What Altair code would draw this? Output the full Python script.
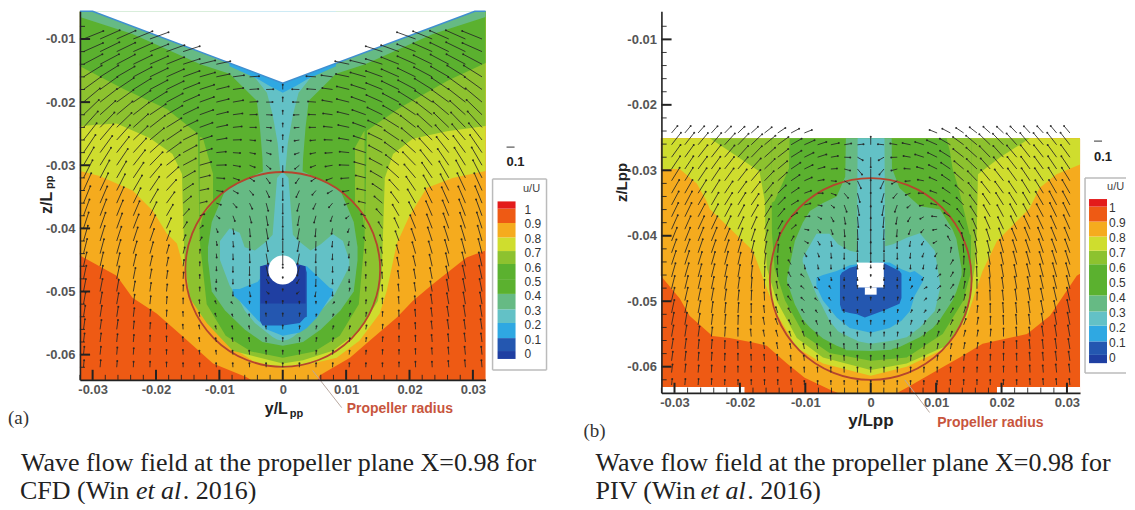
import math
import altair as alt
import pandas as pd

# ---- colours of the u/U levels
RED, REDOR, ORANGE, YELLOW, LGREEN, GREEN, TGREEN, TEAL, LBLUE, BLUE, DARK = (
    "#E31B1B", "#EE5A14", "#F5AB1E", "#CFDD2E", "#8DC22F", "#5BB12F",
    "#66BA84", "#63C1C6", "#2FA8E2", "#2457B0", "#1F3FA2")
LEG_LO = [-.035, .02, .11, .215, .31, .417, .52, .625, .715, .81, .91, 1.01]
LEG_HI = [.02, .11, .215, .31, .417, .52, .625, .715, .81, .91, 1.01, 1.06]
LEG_COL = [DARK, BLUE, LBLUE, TEAL, TGREEN, GREEN, GREEN, LGREEN, YELLOW, ORANGE, REDOR, RED]
LEG_VAL = [0, .1, .2, .3, .4, .5, .6, .7, .8, .9, 1]
LEG_TXT = ["0", "0.1", "0.2", "0.3", "0.4", "0.5", "0.6", "0.7", "0.8", "0.9", "1"]

# ---- panel a, contours (all y/L and z/L values x 1000)
A_SURF_X = [-32, -30, 0, 30.3, 32]
A_SURF_Z = [-5.6, -5.6, -17, -5.6, -5.6]
A9_X = [-32, -26.2, -23.7, -19.9, -15.9, -11, -5.7, -5, 5.5, 5.8, 10.6, 13.7, 18, 20.5, 23.7, 29, 32]
A9_Z = [-44.3, -47.5, -51, -53.5, -57, -61.4, -63.6, -64, -64, -63.3, -60.5, -57.8, -54.1, -51.5, -48.8, -44.6, -43.5]
A8_X = [-32, -28.9, -23.7, -20.5, -18.3, -16.7, -15.7, -14.7, -13.1, -8.8, -4.7, 0, 4.7, 8.5, 12.1, 15.3, 16.4, 18, 20, 22.7, 26.8, 32]
A8_Z = [-30.9, -31.7, -34, -37.2, -40.8, -42.4, -46, -50, -53.5, -58.3, -61, -62.2, -61.4, -60.5, -57.8, -53.5, -49.9, -42.4, -38, -33.6, -32, -30.9]
A7_X = [-32, -26.2, -21, -17.4, -15.9, -15.8, -15.5, -14.7, -12, -7.9, 0, 3.2, 7.9, 12.1, 15, 15.6, 16.1, 17.4, 20.5, 25.9, 32]
A7_Z = [-23.8, -23.4, -25.7, -28.2, -31.4, -35.6, -45, -51, -55, -59.4, -61.4, -60.9, -59.4, -56.2, -51.5, -47.8, -32, -28.2, -25.8, -24.6, -23.8]
A6_X = [-32, -25.2, -18.3, -13.4, -13.1, -12, -9, -5, 0, 5, 9, 12, 12.9, 13.3, 18.5, 26, 32]
A6_Z = [-14.3, -17.9, -21.1, -25, -42, -52, -57, -59.5, -60.5, -59.5, -57, -52, -42, -24.5, -20.9, -16.6, -13.8]
A6P_X = [-13.1, -12.6, -11]
A6P_HI = [-25.5, -25.7, -31.4]
A6P_LO = [-40, -38, -36]
A6Q_X = [11.4, 12.6, 12.9]
A6Q_HI = [-27.2, -25, -24.5]
A6Q_LO = [-36, -38, -40]
A4S_X = [-32, -23.7, -13, -8.4, -4.1, -3.6, -3.2, -3.1, 3.1, 3.2, 3.6, 4.1, 8.4, 13, 23.7, 32]
A4S_Z = [-6.5, -9.2, -14, -15.5, -19.8, -24, -29, -32, -32, -29, -24, -19.8, -15.5, -14, -9.2, -6.5]
A4B_X = [-11.8, -11.2, -9.1, -6, -3.2, 0, 3.2, 6, 9.1, 11.2, 11.8]
A4B_HI = [-43, -39, -34, -32.3, -31, -31, -31, -32.3, -34, -39, -43]
A4B_LO = [-45, -50, -53, -56, -58, -58.6, -58, -56, -53, -50, -45]
A3S_X = [-4.5, -2.5, -1.6, -0.8, -0.4, 0.4, 0.8, 1.6, 2.5, 4.5]
A3S_Z = [-16, -18.5, -22, -26.5, -31, -31, -26.5, -22, -18.5, -16]
A3B_X = [-9.9, -8.4, -6.8, -6, -4.4, -2.5, -1.6, -0.9, 0, 0.9, 1.6, 2.5, 4.4, 6, 7.9, 9.5, 10.5]
A3B_HI = [-42, -40, -40.7, -43, -43.5, -42, -41, -32, -31, -32, -41, -42, -43.5, -42.5, -40.9, -42, -45]
A3B_LO = [-45, -49, -51.5, -53, -55, -56.5, -57.2, -57.6, -57.8, -57.6, -57.2, -56.5, -55, -53, -51, -48, -46]
A2_X = [-7.9, -6.8, -4, -3.2, -2.5, 0, 2.7, 3.8, 5.4, 7.4, 7.9]
A2_HI = [-49.6, -49.6, -48.5, -47.5, -46, -45, -46, -46, -47.5, -49.4, -49.6]
A2_LO = [-50.5, -51.5, -54.5, -55.2, -56, -57, -56.5, -55.8, -54.1, -51, -50.5]
A1_X = [-3.6, -3.2, 0, 2.7, 3.5, 3.8]
A1_HI = [-46, -46, -45, -46, -46, -47]
A1_LO = [-54.6, -55.4, -55.4, -55, -54.1, -54]
A0_X = [-3.5, 0, 3.6]
A0_HI = [-46, -45, -46]
A0_LO = [-51.9, -51.9, -51.9]
AT_X = [-8.4, -4, -2, 0, 2, 4, 8.4]
AT_LO = [-14.3, -16.3, -17.5, -18.5, -17.5, -16.3, -14.3]

# ---- panel a, vector rows: z, then angle (deg, towards the centre) and
# length (u/U x 100), each row listed from the outer column inwards
A_ROW_Z = [-10, -12, -14, -16, -18, -20, -22, -24, -26, -28, -30, -32, -34, -36, -38, -40,
           -42, -44, -46, -48, -50, -52, -54, -56, -58, -60, -62]
A_ANG = [
 [22,24,24,22,20],
 [24,26,26,24,22,20,18],
 [28,28,28,26,24,22,18,14,12],
 [32,32,30,28,26,24,20,16,12,8,4],
 [36,36,34,32,28,26,22,18,14,8,4,2,90],
 [40,38,36,34,32,28,24,20,14,10,4,0,90],
 [44,42,40,38,34,30,26,20,14,8,2,-2,90],
 [48,46,44,42,38,32,26,20,12,6,0,-4,90],
 [52,50,48,44,40,34,26,18,10,2,-6,-10,90],
 [56,54,52,48,42,36,28,18,6,-4,-12,-20,90],
 [60,58,56,52,46,38,28,16,2,-10,-22,-40,-90],
 [63,62,60,56,50,42,30,14,-4,-20,-35,-55,-90],
 [66,65,63,60,56,48,34,12,-10,-30,-50,-65,-90],
 [68,67,66,64,60,54,40,14,-20,-50,-65,-75,-90],
 [70,69,68,67,64,60,48,20,-40,-70,-75,-80,-90],
 [72,71,70,69,68,66,58,40,-70,-80,-85,-80,-90],
 [74,73,72,72,71,70,68,60,-80,-85,-88,-80,-90],
 [76,75,74,74,74,74,76,85,-85,-88,-88,-80,-90],
 [77,77,77,77,77,78,82,88,-88,-90,-90,-78,-90],
 [78,78,78,79,80,82,86,90,-90,-90,-88,-60,90],
 [79,79,80,80,82,84,88,90,100,-90,-80,-40,90],
 [80,80,80,82,84,86,90,95,110,130,90,90,90],
 [81,81,81,83,85,88,92,98,110,110,100,95,90],
 [82,82,82,84,86,90,94,100,105,105,100,95,90],
 [83,83,84,85,88,90,94,98,100,100,98,94,90],
 [84,84,85,86,88,90,92,95,96,96,95,92,90],
 [85,85,85,87,88,90,91,92,93,93,92,91,90]]
A_MAG = [
 [27,27,26,26,25],
 [27,27,26,26,25,24,22],
 [27,27,26,26,25,24,22,20,18],
 [27,27,26,26,25,24,22,20,17,14,12],
 [27,27,26,26,25,24,22,19,16,13,11,9,6],
 [27,27,26,26,25,23,22,19,16,13,10,8,6],
 [27,26,26,25,24,23,21,18,15,12,9,7,5],
 [27,26,26,25,24,22,20,17,14,11,8,6,5],
 [27,26,25,25,23,22,19,16,13,10,7,6,6],
 [27,26,25,24,23,22,19,16,12,9,7,6,7],
 [26,26,25,24,23,21,18,15,12,9,7,7,8],
 [25,25,24,23,22,20,17,13,10,8,7,8,10],
 [24,24,23,22,21,18,15,11,8,7,7,9,12],
 [23,23,22,21,20,17,13,9,6,7,8,10,13],
 [22,22,21,20,19,16,11,6,5,7,9,12,14],
 [21,21,20,19,18,14,9,5,5,7,10,13,14],
 [20,20,19,18,16,13,8,5,5,7,11,13,14],
 [19,19,18,16,15,11,8,5,5,7,11,13,14],
 [18,18,17,15,13,11,8,5,5,7,11,12,2],
 [17,17,16,14,12,10,8,5,4,6,9,6,2],
 [16,16,15,13,11,9,8,5,4,5,6,4,3],
 [15,15,14,12,10,9,7,5,4,3,3,3,4],
 [14,14,13,11,9,8,6,5,4,3,3,4,4],
 [13,12,12,10,8,7,6,5,4,4,4,4,5],
 [11,11,10,9,8,7,6,5,5,5,5,5,5],
 [10,10,9,8,7,6,6,5,5,5,5,5,5],
 [9,9,8,7,7,6,5,5,5,5,5,5,5]]

# ---- panel b, contours
B9_X = [-32.1, -29.2, -27.7, -24.2, -21.6, -18, -15.9, -12.8, -10.1, -5.8, -5, 4, 5.5, 10.1, 13.6, 17.1, 23.9, 27.4, 31.5, 32]
B9_Z = [-46.1, -49.6, -52.2, -55.3, -55.6, -56.3, -56.8, -59.5, -61.7, -63.7, -64, -64, -63.2, -60.6, -58.6, -56.5, -55, -52.2, -46.1, -45.8]
B8_X = [-32, -29.2, -26.6, -25.1, -24.6, -21.6, -18, -15.9, -14.4, -11.3, -7.3, 0, 5.5, 11.6, 14.7, 16.2, 17.1, 19.3, 24.3, 25.8, 28.4, 32]
B8_Z = [-29.8, -29.8, -32, -34.7, -35.9, -38.8, -42.3, -48, -51.9, -57.1, -59.5, -61.4, -60, -57.1, -52.5, -48, -45.4, -40.8, -35.8, -32.7, -30.6, -29.1]
B7_X = [-32, -24.6, -21.6, -17, -16.2, -16.1, -15.9, -14.4, -11.3, -7.3, 0, 5.5, 11.6, 14.7, 15.9, 16.2, 16.4, 19.7, 24.3, 32]
B7_Z = [-25.1, -25.1, -27.1, -30.2, -34.7, -39.7, -44.9, -49.9, -55.6, -58.6, -60.5, -59.5, -56.8, -52, -44.9, -39.7, -30.6, -28.1, -25.1, -25.1]
B6_X = [-15.2, -15.1, -14.7, -13.1, -10.1, -6.3, 0, 5.5, 11, 14.1, 15.3, 15.35, 15.4]
B6_Z = [-25.1, -39.7, -45, -49.9, -55.3, -57.9, -59.1, -58.6, -55, -50, -45.6, -39.7, -25.1]
B6P_X = [-15.2, -14.7, -13.5, -12.5, -12.4]
B6P_LO = [-35, -34.7, -32, -29.7, -25.1]
B6Q_X = [11.6, 12.1, 12.5, 13.5, 15.1, 15.4]
B6Q_LO = [-25.1, -27.1, -29.7, -33, -39.7, -40]
B4_X = [-12.8, -11.6, -10.4, -9.3, -7.3, -5.2, -3.9, -3.8, 0, 3.2, 3.25, 4.4, 7.5, 9.5, 10.6, 12.5, 13.1, 13.9]
B4_HI = [-46.5, -40.8, -38, -36.2, -35, -34, -31, -25.1, -25.1, -25.1, -29.7, -32.7, -35.5, -35.8, -36, -39, -40.5, -45.1]
B4_LO = [-47, -50.5, -52.8, -54, -55.7, -56.8, -57.3, -57.5, -57.6, -57.4, -57.3, -57, -55.5, -54.1, -52.8, -49.9, -48.5, -46]
B3_X = [-10.4, -8.3, -6.3, -5, -3.2, -2.1, -2, 0, 2.1, 2.2, 3.4, 5.5, 7.5, 9.8, 10.6]
B3_HI = [-43.4, -39.7, -39.7, -41.3, -42.3, -42.5, -25.1, -25.1, -25.1, -41.6, -41.3, -40.3, -39.6, -42.3, -47.3]
B3_LO = [-44, -49, -53, -54.6, -55.5, -56, -56.1, -56.5, -56.2, -56.2, -56, -55.5, -54, -51.5, -48]
B2_X = [-8.3, -7.3, -5.2, -3.2, 0, 2.9, 4.7, 6, 6.7, 8]
B2_HI = [-46.4, -46, -45.4, -44.5, -44.1, -44.1, -45.1, -45.6, -45.4, -46.3]
B2_LO = [-47.7, -49.9, -52.5, -54.1, -54.8, -54.1, -53, -51.5, -49.2, -46.9]
B1_X = [-4.7, -4.4, -3.2, -2.1, -0.9, 1.8, 4.4, 4.7]
B1_HI = [-46.1, -45.6, -44.9, -44.6, -44.4, -44.1, -45.4, -45.8]
B1_LO = [-50.5, -51.5, -51.8, -52, -52.5, -51.5, -50.4, -49.5]
B_HUB_X1 = [-2.1, -0.9]
B_HUB_X2 = [2.0, 0.9]
B_HUB_Z1 = [-44.1, -47.9]
B_HUB_Z2 = [-47.9, -49.0]
B_GAP_X1 = [-32, 19.3]
B_GAP_X2 = [-19.3, 32]
B_ROW_Z = [-24.3, -26.1, -28, -29.8, -31.6, -33.5, -35.3, -37.1, -39, -40.8, -42.6, -44.4, -46.3,
           -48.1, -49.9, -51.8, -53.6, -55.4, -57.3, -59.1, -60.9, -62.8]
B_ANG = [
 [50,50,48,48,46,44,42,38,34,28,22],
 [52,52,50,50,48,46,44,40,36,30,24,18,12,10,6,90],
 [54,54,52,52,50,48,46,42,38,32,26,18,10,-2,-30,-90],
 [56,56,54,54,52,50,48,44,40,34,26,16,4,-15,-50,-90],
 [58,58,56,56,54,52,50,46,42,34,24,10,-6,-30,-65,-90],
 [60,60,58,58,56,54,52,50,44,34,20,0,-20,-50,-75,-90],
 [62,62,60,60,58,58,56,54,46,32,14,-10,-40,-70,-80,-90],
 [64,64,62,62,62,62,60,58,50,32,6,-30,-60,-80,-85,-90],
 [66,66,65,65,65,65,66,66,60,40,-10,-50,-70,-85,-88,-90],
 [68,68,68,68,68,70,72,74,76,60,-30,-60,-80,-88,-90,-90],
 [70,70,71,71,72,74,76,80,86,100,-60,-70,-85,-90,-90,-90],
 [72,72,73,74,75,77,80,84,92,120,-80,-80,-88,-90,-90,-90],
 [74,74,75,76,78,80,84,88,96,120,140,-60,-80,-90,-90,90],
 [76,76,77,78,80,82,86,90,100,125,140,150,120,90,90,90],
 [77,77,78,80,82,84,88,92,104,125,135,140,125,100,90,90],
 [78,78,79,82,84,86,90,96,108,120,125,125,115,100,90,90],
 [79,80,81,83,85,88,92,100,110,115,115,110,105,100,95,90],
 [80,81,82,84,86,90,95,100,105,108,108,105,100,96,92,90],
 [81,82,84,85,88,92,95,98,100,102,100,98,96,94,92,90],
 [82,83,85,86,88,90,92,94,96,96,96,95,94,92,91,90],
 [83,84,85,87,88,90,91,92,92,92,92,92,91,91,90,90],
 [84,85,86,87,88,89,90,90,90,90,90,90,90,90,90,90]]
B_MAG = [
 [9,9,9,9,9,9,9,9,9,9,8],
 [15,15,15,15,15,15,15,14,13,12,11,9,8,7,6,8],
 [15,15,15,15,15,15,15,14,13,12,10,9,7,6,6,10],
 [15,15,15,15,15,15,14,14,12,11,9,7,6,6,7,11],
 [15,15,15,15,15,14,14,13,12,10,8,6,5,6,8,12],
 [15,15,15,15,14,14,14,13,11,9,7,5,5,6,9,13],
 [15,15,15,14,14,14,13,12,10,8,6,4,4,7,10,13],
 [15,15,14,14,14,13,13,12,10,7,5,4,5,7,10,13],
 [15,14,14,14,14,13,13,11,9,6,4,4,5,7,10,13],
 [14,14,14,14,13,13,12,11,8,5,4,4,5,7,10,12],
 [14,14,14,13,13,13,12,11,8,5,4,4,5,6,8,9],
 [14,14,13,13,13,12,12,11,8,5,4,4,4,4,4,3],
 [14,14,13,13,12,12,11,10,8,5,4,3,3,3,3,2],
 [13,13,13,12,12,11,11,9,7,5,4,3,3,3,3,2],
 [13,13,12,12,11,10,10,8,6,5,4,3,3,3,3,3],
 [13,12,12,11,10,10,9,7,6,5,4,3,3,3,3,3],
 [12,12,11,10,10,9,8,7,6,5,4,4,4,4,4,4],
 [11,11,10,9,9,8,7,6,6,5,5,4,4,4,4,4],
 [10,10,9,9,8,7,7,6,6,5,5,5,5,5,5,5],
 [9,9,8,8,7,7,6,6,6,5,5,5,5,5,5,5],
 [8,8,7,7,6,6,6,5,5,5,5,5,5,5,5,5],
 [6,6,6,6,5,5,5,5,5,5,4,4,4,4,4,4]]

X_MAJOR = [-30, -20, -10, 0, 10, 20, 30]
Z_MAJOR = [-10, -20, -30, -40, -50, -60]
X_MINOR = [-32, -28, -26, -24, -22, -18, -16, -14, -12, -8, -6, -4, -2, 2, 4, 6, 8, 12, 14, 16, 18, 22, 24, 26, 28]
Z_MINOR = [-8, -12, -14, -16, -18, -22, -24, -26, -28, -32, -34, -36, -38, -42, -44, -46, -48, -52, -54, -56, -58, -62]

LBL = "datum.value < 0 ? '-' + format(-datum.value, '.2f') : (datum.value > 0 ? format(datum.value, '.2f') : '0')"
SANS = "Liberation Sans"
SERIF = "Liberation Serif"
ONE = pd.DataFrame({"k": [0]})


def build(x_dom, z_dom, band_top, cols):
    sx = alt.Scale(domain=x_dom, nice=False, zero=False)
    sy = alt.Scale(domain=z_dom, nice=False, zero=False)

    def X(f="x"):
        return alt.X(f, type="quantitative", scale=sx, axis=None)

    def Y(f="lo"):
        return alt.Y(f, type="quantitative", scale=sy, axis=None)

    def area(xs, lo, color, hi=None):
        hi = hi if hi is not None else [band_top] * len(xs)
        d = pd.DataFrame({"x": [v / 1000 for v in xs], "lo": [v / 1000 for v in lo], "hi": [v / 1000 for v in hi]})
        return alt.Chart(d).mark_area(color=color, orient="vertical", interpolate="linear", opacity=1).encode(
            X(), Y(), y2="hi:Q")

    def axes():
        d = pd.DataFrame({"x": [0.0], "y": [z_dom[0]]})
        return alt.Chart(d).mark_point(opacity=0).encode(
            alt.X("x:Q", scale=sx, title=None, axis=alt.Axis(
                values=[v / 1000 for v in X_MAJOR], labelExpr=LBL, tickSize=0, grid=False, labelFont=SANS,
                labelFontWeight="bold", labelFontSize=13, labelColor="#555", labelPadding=4,
                domainColor="#222", domainWidth=1.6, zindex=2, labelFlush=False, labelOverlap=False)),
            alt.Y("y:Q", scale=sy, title=None, axis=alt.Axis(
                values=[v / 1000 for v in Z_MAJOR], labelExpr=LBL, tickSize=0, grid=False, labelFont=SANS,
                labelFontWeight="bold", labelFontSize=13, labelColor="#555", labelPadding=5,
                domainColor="#222", domainWidth=1.6, zindex=2, labelOverlap=False)))

    def ticks(major_len, minor_len):
        out = []
        for vals, ln, sw in ((X_MAJOR, major_len, 2.0), (X_MINOR, minor_len, 0.9)):
            d = pd.DataFrame({"x": [v / 1000 for v in vals], "lo": z_dom[0], "hi": z_dom[0] + ln / 1000})
            out.append(alt.Chart(d).mark_rule(color="#222", strokeWidth=sw).encode(X(), Y(), y2="hi:Q"))
        for vals, ln, sw in ((Z_MAJOR, major_len, 2.0), (Z_MINOR, minor_len, 0.9)):
            d = pd.DataFrame({"lo": [v / 1000 for v in vals], "x": x_dom[0], "x2": x_dom[0] + ln / 1000})
            out.append(alt.Chart(d).mark_rule(color="#222", strokeWidth=sw).encode(X(), x2="x2:Q", y=Y()))
        return out

    def arrows(rows, ang, mag, dx, k):
        recs = []
        for z, ar, mr in zip(rows, ang, mag):
            for i, (a, m) in enumerate(zip(ar, mr)):
                c = cols - i
                for side in ([-1, 1] if c else [-1]):
                    xt = side * c * dx
                    rad = math.radians(a)
                    recs.append({"x": xt / 1000, "lo": z / 1000,
                                 "x2": (xt - side * m * k * math.cos(rad)) / 1000,
                                 "hi": (z + m * k * math.sin(rad)) / 1000})
        d = pd.DataFrame(recs)
        line = alt.Chart(d).mark_rule(color="#262626", strokeWidth=1.0, opacity=0.85).encode(
            X(), x2="x2:Q", y=Y(), y2="hi:Q")
        head = alt.Chart(d).mark_point(filled=True, color="#222", size=4, opacity=0.9).encode(
            alt.X("x2:Q", scale=sx, axis=None), alt.Y("hi:Q", scale=sy, axis=None))
        return [line, head]

    def ring(z, size, color, filled, sw=1.8):
        d = pd.DataFrame({"x": [0.0], "lo": [z / 1000]})
        return alt.Chart(d).mark_point(shape="circle", size=size, filled=filled, color=color, opacity=1,
                                       strokeWidth=sw).encode(X(), Y())

    def leader(xs, zs):
        d = pd.DataFrame({"x": [v / 1000 for v in xs], "lo": [v / 1000 for v in zs]})
        return alt.Chart(d).mark_line(color="#b8a8a0", strokeWidth=1, clip=False).encode(X(), Y())

    def rects(x1, x2, z1, z2, color):
        d = pd.DataFrame({"x": [v / 1000 for v in x1], "x2": [v / 1000 for v in x2],
                          "lo": [v / 1000 for v in z1], "hi": [v / 1000 for v in z2]})
        return alt.Chart(d).mark_rect(color=color, opacity=1).encode(X(), x2="x2:Q", y=Y(), y2="hi:Q")

    return dict(area=area, axes=axes, ticks=ticks, arrows=arrows, ring=ring, leader=leader, rects=rects, X=X, Y=Y)


def txt(s, x, y, size=13, color="#222", font=SANS, weight="normal", style="normal", align="left", angle=0):
    return alt.Chart(ONE).mark_text(fontSize=size, color=color, font=font, fontWeight=weight, fontStyle=style,
                                    align=align, baseline="middle", angle=angle).encode(
        x=alt.value(x), y=alt.value(y), text=alt.value(s))


def seg(x1, x2, y1, y2, color="#bbb", w=1.5):
    return alt.Chart(ONE).mark_rule(color=color, strokeWidth=w).encode(
        x=alt.value(x1), x2=alt.value(x2), y=alt.value(y1), y2=alt.value(y2))


def legend(sw_x, lab_x, y0, y1):
    sc = alt.Scale(domain=[0, 1], range=[y0, y1], nice=False, zero=False)
    d = pd.DataFrame({"lo": LEG_LO, "hi": LEG_HI, "c": LEG_COL})
    sw = alt.Chart(d).mark_rect(opacity=1).encode(
        x=alt.value(sw_x), x2=alt.value(sw_x + 18),
        y=alt.Y("lo:Q", scale=sc, axis=None), y2="hi:Q",
        color=alt.Color("c:N", scale=None, legend=None))
    d2 = pd.DataFrame({"v": LEG_VAL, "t": LEG_TXT})
    la = alt.Chart(d2).mark_text(fontSize=12, font=SANS, color="#333", align="left", baseline="middle").encode(
        x=alt.value(lab_x), y=alt.Y("v:Q", scale=sc, axis=None), text="t:N")
    return [sw, la]


# ---------------- panel a
h = build([-0.032, 0.032], [-0.064, -0.0056], -5.6, 12)
a_main = [
    h["area"]([-32, 32], [-64, -64], REDOR),
    h["area"](A9_X, A9_Z, ORANGE),
    h["area"](A8_X, A8_Z, YELLOW),
    h["area"](A7_X, A7_Z, LGREEN),
    h["area"](A6_X, A6_Z, GREEN),
    h["area"](A6P_X, A6P_LO, LGREEN, A6P_HI),
    h["area"](A6Q_X, A6Q_LO, LGREEN, A6Q_HI),
    h["area"](A4S_X, A4S_Z, TGREEN),
    h["area"](A4B_X, A4B_LO, TGREEN, A4B_HI),
    h["area"](A3S_X, A3S_Z, TEAL),
    h["area"](A3B_X, A3B_LO, TEAL, A3B_HI),
    h["area"](A2_X, A2_LO, LBLUE, A2_HI),
    h["area"](A1_X, A1_LO, BLUE, A1_HI),
    h["area"](A0_X, A0_LO, DARK, A0_HI),
    h["area"](AT_X, AT_LO, LBLUE),
    h["area"](A_SURF_X, A_SURF_Z, "#ffffff"),
    alt.Chart(pd.DataFrame({"x": [v / 1000 for v in A_SURF_X], "lo": [v / 1000 for v in A_SURF_Z]})).mark_line(
        color="#3f8fd0", strokeWidth=1.5).encode(h["X"](), h["Y"]()),
    h["ring"](-46.6, 841, "#ffffff", True),
    h["ring"](-46.5, 38025, "#B5452E", False),
] + h["arrows"](A_ROW_Z, A_ANG, A_MAG, 2.62, 0.125) + h["ticks"](1.6, 0.8) + [
    h["leader"]([4.7, 9.3], [-62.5, -68.4]),
    h["axes"](),
    txt("z/L", -33, 203, 16, "#222", weight="bold", angle=270),
    txt("pp", -30, 178, 11, "#222", weight="bold", angle=270),
    txt("y/L", 185, 398, 16, "#222", weight="bold"),
    txt("pp", 210, 403, 11, "#222", weight="bold"),
    txt("Propeller radius", 267, 398, 14, "#C8553D", weight="bold"),
    txt("(a)", -72, 407, 19, "#333", SERIF),
    txt("Wave flow field at the propeller plane X=0.98 for", -59, 452, 26, "#222", SERIF),
    txt("CFD (Win ", -60, 480, 26, "#222", SERIF),
    txt("et al", 56, 480, 26, "#222", SERIF, style="italic"),
    txt(". 2016)", 103, 480, 26, "#222", SERIF),
]
a_leg = legend(418, 445, 343, 199) + [
    seg(413, 467, 168, 168), seg(413, 467, 359, 359), seg(413, 413, 168, 359), seg(467, 467, 168, 359),
    txt("u/U", 452, 178, 11, "#444", align="center"),
    txt("0.1", 436, 151, 13, "#222", weight="bold", align="center"),
    seg(427, 435, 136, 136, "#333", 1),
]
panel_a = alt.layer(*(a_main + a_leg)).resolve_scale(x="independent", y="independent").properties(width=406, height=369)

# ---------------- panel b
g = build([-0.032, 0.032], [-0.064, -0.0057], -25.1, 15)
b_main = [
    g["area"]([-32, 32], [-64, -64], REDOR),
    g["area"](B9_X, B9_Z, ORANGE),
    g["area"](B8_X, B8_Z, YELLOW),
    g["area"](B7_X, B7_Z, LGREEN),
    g["area"](B6_X, B6_Z, GREEN),
    g["area"](B6P_X, B6P_LO, LGREEN),
    g["area"](B6Q_X, B6Q_LO, LGREEN),
    g["area"](B4_X, B4_LO, TGREEN, B4_HI),
    g["area"](B3_X, B3_LO, TEAL, B3_HI),
    g["area"](B2_X, B2_LO, LBLUE, B2_HI),
    g["area"](B1_X, B1_LO, BLUE, B1_HI),
    g["rects"](B_HUB_X1, B_HUB_X2, B_HUB_Z1, B_HUB_Z2, "#ffffff"),
    g["rects"](B_GAP_X1, B_GAP_X2, [-64, -64], [-63.1, -63.1], "#ffffff"),
    g["ring"](-46.6, 40804, "#B5452E", False),
] + g["arrows"](B_ROW_Z, B_ANG, B_MAG, 2.03, 0.155) + g["ticks"](1.55, 0.8) + [
    g["leader"]([5.2, 9], [-62, -67]),
    g["axes"](),
    txt("z/Lpp", -39, 191, 15, "#222", weight="bold", angle=270),
    txt("y/Lpp", 187, 410, 17, "#222", weight="bold"),
    txt("Propeller radius", 276, 412, 14, "#C8553D", weight="bold"),
    txt("(b)", -78, 420, 19, "#333", SERIF),
    txt("Wave flow field at the propeller plane X=0.98 for", -66, 452, 26, "#222", SERIF),
    txt("PIV (Win ", -66, 480, 26, "#222", SERIF),
    txt("et al", 39, 480, 26, "#222", SERIF, style="italic"),
    txt(". 2016)", 86, 480, 26, "#222", SERIF),
]
b_leg = legend(428, 448, 347, 197) + [
    seg(424, 465, 167, 167), seg(424, 465, 362, 362), seg(424, 424, 167, 362),
    txt("u/U", 446, 176, 11, "#444"),
    txt("0.1", 442, 146, 13, "#222", weight="bold", align="center"),
    seg(433, 441, 130, 130, "#333", 1),
]
panel_b = alt.layer(*(b_main + b_leg)).resolve_scale(x="independent", y="independent").properties(width=419, height=382)

chart = alt.hconcat(panel_a, panel_b, spacing=36).properties(
    padding={"left": 0, "top": 0, "right": 0, "bottom": 0}
).configure_view(stroke=None)
chart.save("out.html", embed_options={"renderer": "svg", "actions": False})
